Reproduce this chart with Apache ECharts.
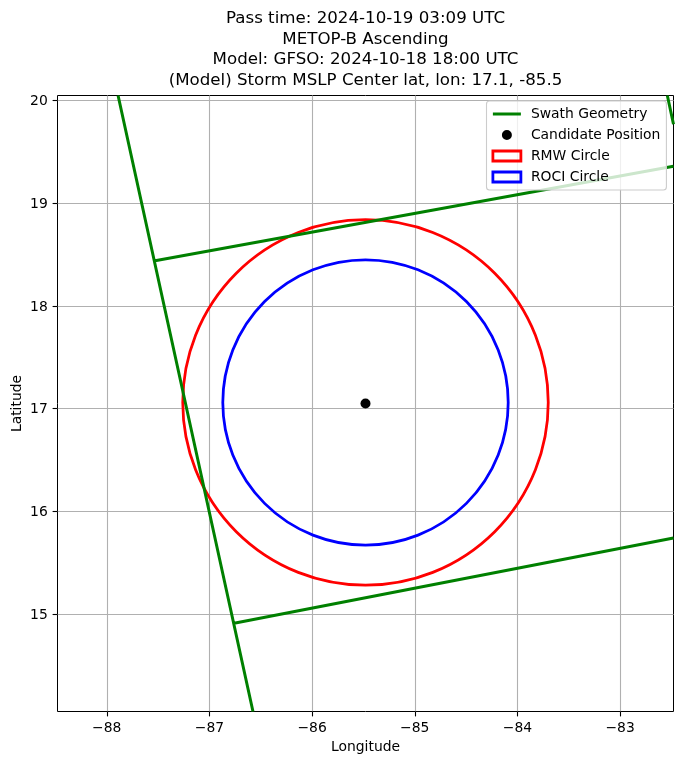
<!DOCTYPE html>
<html><head><meta charset="utf-8">
<style>html,body{margin:0;padding:0;background:#fff}#c{width:683px;height:764px}</style>
<script src="https://cdn.jsdelivr.net/npm/echarts@6/dist/echarts.min.js"></script>
</head><body><div id="c"></div>
<script>
const titleLines = [
  'Pass time: 2024-10-19 03:09 UTC',
  'METOP-B Ascending',
  'Model: GFSO: 2024-10-18 18:00 UTC',
  '(Model) Storm MSLP Center lat, lon: 17.1, -85.5'
];
const xTicks = [-88, -87, -86, -85, -84, -83];
const yTicks = [15, 16, 17, 18, 19, 20];
const xRange = [-88.48, -82.48];
const yRange = [14.05, 20.05];
const swathSegments = [
  [[-87.89, 20.05], [-86.576, 14.05]],
  [[-87.53, 18.44], [-82.48, 19.36]],
  [[-86.76, 14.91], [-82.48, 15.74]],
  [[-82.54, 20.05], [-82.48, 19.77]]
];
const candidate = [-85.48, 17.05];
const circleCenter = [-85.48, 17.06];
const rmwRadius = 1.78;
const rociRadius = 1.39;

const font = '"DejaVu Sans"';
const swathData = [];
swathSegments.forEach(function (s, i) {
  if (i) swathData.push([null, null]);
  swathData.push(s[0], s[1]);
});
function circleSeries(name, radius, color) {
  return {
    name: name, type: 'custom', coordinateSystem: 'cartesian2d', silent: true, z: 2,
    clip: true, itemStyle: { color: color },
    data: [[circleCenter[0], circleCenter[1], radius]],
    renderItem: function (params, api) {
      const c = api.coord([api.value(0), api.value(1)]);
      const r = api.size([api.value(2), 0])[0];
      return { type: 'circle', shape: { cx: c[0], cy: c[1], r: r },
        style: { fill: 'none', stroke: color, lineWidth: 2.78 } };
    }
  };
}
function axisCommon(name, ticks, range) {
  return {
    type: 'value', name: name, nameLocation: 'middle', min: range[0], max: range[1],
    nameMoveOverlap: false,
    nameTextStyle: { fontFamily: font, fontSize: 13.9, color: '#000' },
    axisLine: { show: false, onZero: false },
    axisTick: { show: true, length: 4.9, lineStyle: { color: '#000', width: 1.1 }, customValues: ticks },
    axisLabel: { customValues: ticks, fontFamily: font, fontSize: 13.9, color: '#000', margin: 9.7,
      formatter: function (v) { return String(v).replace('-', '\u2212'); } },
    splitLine: { show: true, lineStyle: { color: '#b0b0b0', width: 1.1 } }
  };
}
const yAxisOpt = axisCommon('Latitude', yTicks, yRange);
yAxisOpt.nameGap = 33.5;
yAxisOpt.axisLabel.verticalAlign = 'top';
yAxisOpt.axisLabel.lineHeight = 2;
const chart = echarts.init(document.getElementById('c'), null, { renderer: 'canvas' });
chart.setOption({
  animation: false,
  backgroundColor: '#fff',
  title: {
    text: titleLines.join('\n'), left: 365.5, top: 8, padding: 0, textAlign: 'center',
    textStyle: { fontFamily: font, fontSize: 16.67, fontWeight: 'normal', color: '#000', lineHeight: 20.8 }
  },
  grid: { left: 57.5, right: 9.5, top: 95.5, bottom: 52.5, outerBoundsMode: 'none', show: true, borderColor: '#000', borderWidth: 1, backgroundColor: 'transparent' },
  xAxis: Object.assign(axisCommon('Longitude', xTicks, xRange), { nameGap: 29 }),
  yAxis: yAxisOpt,
  legend: {
    left: 486.5, top: 101, orient: 'vertical', align: 'left',
    padding: [6, 6, 6, 5], itemWidth: 28, itemHeight: 10, itemGap: 7,
    backgroundColor: 'rgba(255,255,255,0.8)', borderColor: '#cccccc', borderWidth: 1.1, borderRadius: 3,
    textStyle: { fontFamily: font, fontSize: 13.9, color: '#000', lineHeight: 14, padding: [0, 0, 0, 5] },
    selectedMode: false,
    data: [
      { name: 'Swath Geometry', icon: 'path://M0 0Z M28 10Z M0 3.5H28V6.5H0Z' },
      { name: 'Candidate Position', icon: 'path://M0 0Z M28 10Z M9 5a5 5 0 1 0 10 0a5 5 0 1 0-10 0Z' },
      { name: 'RMW Circle', icon: 'rect', itemStyle: { color: 'transparent', borderColor: '#ff0000', borderWidth: 2.78 } },
      { name: 'ROCI Circle', icon: 'rect', itemStyle: { color: 'transparent', borderColor: '#0000ff', borderWidth: 2.78 } }
    ]
  },
  series: [
    circleSeries('RMW Circle', rmwRadius, '#ff0000'),
    circleSeries('ROCI Circle', rociRadius, '#0000ff'),
    { name: 'Candidate Position', type: 'scatter', silent: true, z: 3, symbol: 'circle', symbolSize: 10,
      itemStyle: { color: '#000', opacity: 1 }, data: [candidate] },
    { name: 'Swath Geometry', type: 'line', silent: true, z: 3, symbol: 'none', showSymbol: false,
      connectNulls: false, clip: true,
      lineStyle: { color: '#008000', width: 3 }, itemStyle: { color: '#008000' }, data: swathData }
  ]
});
</script></body></html>
